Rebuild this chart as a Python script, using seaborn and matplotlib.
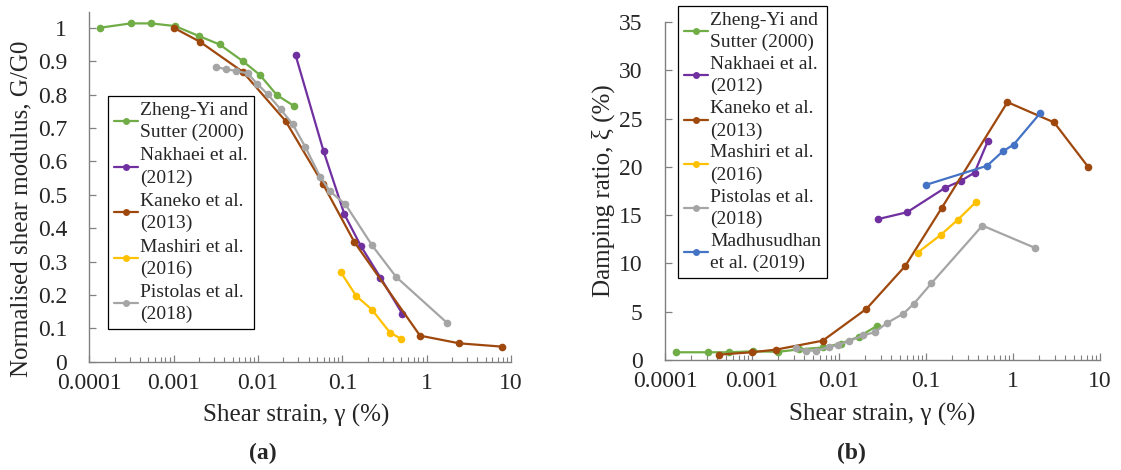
import numpy as np
import pandas as pd
import matplotlib
matplotlib.use("Agg")
import matplotlib.pyplot as plt
import matplotlib.ticker as mticker
from matplotlib.lines import Line2D
import seaborn as sns

# ---------------- data ----------------
studies_a = ["Zheng-Yi and\nSutter (2000)", "Nakhaei et al.\n(2012)", "Kaneko et al.\n(2013)",
             "Mashiri et al.\n(2016)", "Pistolas et al.\n(2018)"]
studies_b = studies_a + ["Madhusudhan\net al. (2019)"]

# (a) Normalised shear modulus
zheng_g_x = [1.34e-4, 3.1e-4, 5.4e-4, 1.04e-3, 2.0e-3, 3.5e-3, 6.6e-3, 0.0105, 0.0168, 0.027]
zheng_g_y = [1.0, 1.013, 1.013, 1.005, 0.975, 0.950, 0.900, 0.859, 0.798, 0.765]
nakhaei_g_x = [0.0279, 0.060, 0.106, 0.167, 0.283, 0.513]
nakhaei_g_y = [0.918, 0.630, 0.441, 0.345, 0.252, 0.144]
kaneko_g_x = [1.0e-3, 2.05e-3, 6.6e-3, 0.0212, 0.059, 0.139, 0.834, 2.44, 7.9]
kaneko_g_y = [1.0, 0.958, 0.868, 0.721, 0.532, 0.358, 0.078, 0.055, 0.045]
mashiri_g_x = [0.096, 0.146, 0.224, 0.368, 0.493]
mashiri_g_y = [0.268, 0.197, 0.156, 0.087, 0.069]
pistolas_g_x = [3.14e-3, 4.13e-3, 5.42e-3, 7.6e-3, 9.7e-3, 0.013, 0.0185, 0.0258, 0.0362,
                0.0545, 0.0716, 0.109, 0.226, 0.434, 1.75]
pistolas_g_y = [0.883, 0.876, 0.871, 0.863, 0.833, 0.801, 0.756, 0.711, 0.644,
                0.554, 0.510, 0.471, 0.348, 0.254, 0.116]

# (b) Damping ratio
zheng_d_x = [1.34e-4, 3.1e-4, 5.4e-4, 1.04e-3, 2.0e-3, 3.5e-3, 6.6e-3, 0.0105, 0.0168, 0.027]
zheng_d_y = [0.8, 0.8, 0.8, 0.9, 0.85, 1.1, 1.3, 1.7, 2.4, 3.5]
nakhaei_d_x = [0.0284, 0.0606, 0.167, 0.252, 0.361, 0.513]
nakhaei_d_y = [14.6, 15.3, 17.85, 18.55, 19.4, 22.65]
kaneko_d_x = [4.2e-4, 1.0e-3, 1.9e-3, 6.5e-3, 0.0207, 0.0578, 0.152, 0.864, 2.97, 7.3]
kaneko_d_y = [0.56, 0.8, 1.08, 2.0, 5.3, 9.74, 15.76, 26.7, 24.6, 20.0]
mashiri_d_x = [0.0805, 0.149, 0.233, 0.375]
mashiri_d_y = [11.13, 12.98, 14.54, 16.35]
pistolas_d_x = [3.2e-3, 4.17e-3, 5.5e-3, 7.6e-3, 9.8e-3, 0.013, 0.019, 0.0258, 0.036,
                0.055, 0.073, 0.115, 0.445, 1.81]
pistolas_d_y = [1.22, 0.97, 0.97, 1.32, 1.57, 1.95, 2.54, 2.89, 3.86,
                4.8, 5.85, 7.93, 13.92, 11.59]
madhu_d_x = [0.0993, 0.503, 0.764, 1.016, 2.07]
madhu_d_y = [18.13, 20.11, 21.61, 22.3, 25.6]

x_ticks = [1e-4, 1e-3, 1e-2, 1e-1, 1, 10]
x_tick_labels = ["0.0001", "0.001", "0.01", "0.1", "1", "10"]

colors = ["#70AD47", "#7030A0", "#9E480E", "#FFC000", "#A5A5A5", "#4472C4"]

# ---------------- build frames ----------------
def frame(series, names):
    rows = []
    for (xs, ys), nm in zip(series, names):
        for i, (x, y) in enumerate(zip(xs, ys)):
            rows.append({"study": nm, "x": x, "y": y, "order": i})
    return pd.DataFrame(rows)

df_a = frame([(zheng_g_x, zheng_g_y), (nakhaei_g_x, nakhaei_g_y), (kaneko_g_x, kaneko_g_y),
              (mashiri_g_x, mashiri_g_y), (pistolas_g_x, pistolas_g_y)], studies_a)
df_b = frame([(zheng_d_x, zheng_d_y), (nakhaei_d_x, nakhaei_d_y), (kaneko_d_x, kaneko_d_y),
              (mashiri_d_x, mashiri_d_y), (pistolas_d_x, pistolas_d_y), (madhu_d_x, madhu_d_y)],
             studies_b)

# ---------------- style ----------------
sns.set_theme(style="white")
plt.rcParams["font.family"] = ["Liberation Serif", "DejaVu Serif"]

W, H = 1121, 470
fig = plt.figure(figsize=(W / 100, H / 100), dpi=100)

def px_axes(l, r, b, t):
    return fig.add_axes([l / W, 1 - b / H, (r - l) / W, (b - t) / H])

ax_a = px_axes(89.3, 511, 361.7, 11.7)
ax_b = px_axes(665, 1100, 360, 22)

spine_col = "#808080"
tick_fs = 17
lab_fs = 18
leg_fs = 14

def draw(ax, df, names):
    for nm, col in zip(names, colors):
        sub = df[df["study"] == nm]
        sns.lineplot(data=sub, x="x", y="y", ax=ax, color=col, sort=False, estimator=None,
                     marker="o", markersize=5.5, markeredgewidth=0, linewidth=1.6,
                     legend=False)

def style_axes(ax):
    ax.set_xscale("log")
    ax.set_xlim(1e-4, 10)
    ax.xaxis.set_major_locator(mticker.FixedLocator(x_ticks))
    ax.xaxis.set_major_formatter(mticker.FixedFormatter(x_tick_labels))
    ax.xaxis.set_minor_locator(mticker.LogLocator(base=10, subs=np.arange(2, 10), numticks=20))
    ax.xaxis.set_minor_formatter(mticker.NullFormatter())
    for s in ["top", "right"]:
        ax.spines[s].set_visible(False)
    for s in ["left", "bottom"]:
        ax.spines[s].set_color(spine_col)
        ax.spines[s].set_linewidth(1.0)
    ax.tick_params(axis="x", which="major", direction="in", length=5, width=0.9,
                   color=spine_col, labelsize=tick_fs, pad=8, bottom=True)
    ax.tick_params(axis="x", which="minor", direction="in", length=3.5, width=0.8,
                   color=spine_col, bottom=True)
    ax.tick_params(axis="y", which="major", direction="in", length=5, width=0.9,
                   color=spine_col, labelsize=tick_fs, pad=16, left=True)
    ax.set_facecolor("white")
    ax.grid(False)

draw(ax_a, df_a, studies_a)
draw(ax_b, df_b, studies_b)
style_axes(ax_a)
style_axes(ax_b)

ax_a.set_ylim(0, 1.048)
ax_a.set_yticks(np.round(np.arange(0, 1.01, 0.1), 1))
ax_a.set_yticklabels(["0", "0.1", "0.2", "0.3", "0.4", "0.5", "0.6", "0.7", "0.8", "0.9", "1"])
ax_b.set_ylim(0, 35)
ax_b.set_yticks(np.arange(0, 36, 5))
ax_b.set_yticklabels([str(v) for v in range(0, 36, 5)])

ax_a.set_xlabel("Shear strain, γ (%)", fontsize=lab_fs)
ax_b.set_xlabel("Shear strain, γ (%)", fontsize=lab_fs)
ax_a.set_ylabel("Normalised shear modulus, G/G0", fontsize=lab_fs)
ax_b.set_ylabel("Damping ratio, ξ (%)", fontsize=lab_fs)
ax_a.yaxis.set_label_coords((32 - 89.3) / (511 - 89.3), (361.7 - 209) / 350)
ax_b.yaxis.set_label_coords((615 - 665) / 435, 0.5)
ax_a.xaxis.set_label_coords(0.49, (361.7 - 404) / 350)
ax_b.xaxis.set_label_coords(0.5, (360 - 403) / 338)

def legend(ax, names, x, y, lsp):
    handles = [Line2D([0], [0], color=c, marker="o", markersize=5, markeredgewidth=0, linewidth=1.6)
               for c in colors[:len(names)]]
    leg = ax.legend(handles, names, loc="upper left", bbox_to_anchor=(x / W, 1 - y / H),
                    bbox_transform=fig.transFigure, fontsize=leg_fs, frameon=True,
                    fancybox=False, edgecolor="black", framealpha=1, borderaxespad=0,
                    borderpad=0.3, labelspacing=lsp, handlelength=1.25, handletextpad=0.1)
    leg.get_frame().set_linewidth(0.9)
    for t in leg.get_texts():
        t.set_linespacing(1.38)
    return leg

legend(ax_a, studies_a, 108, 96, 0.32)
legend(ax_b, studies_b, 678, 6, 0.25)

fig.text(263 / W, 1 - 453 / H, "(a)", ha="center", va="center", fontsize=17, fontweight="bold")
fig.text(851 / W, 1 - 453 / H, "(b)", ha="center", va="center", fontsize=17, fontweight="bold")

fig.savefig("out.png", dpi=100, facecolor="white")
